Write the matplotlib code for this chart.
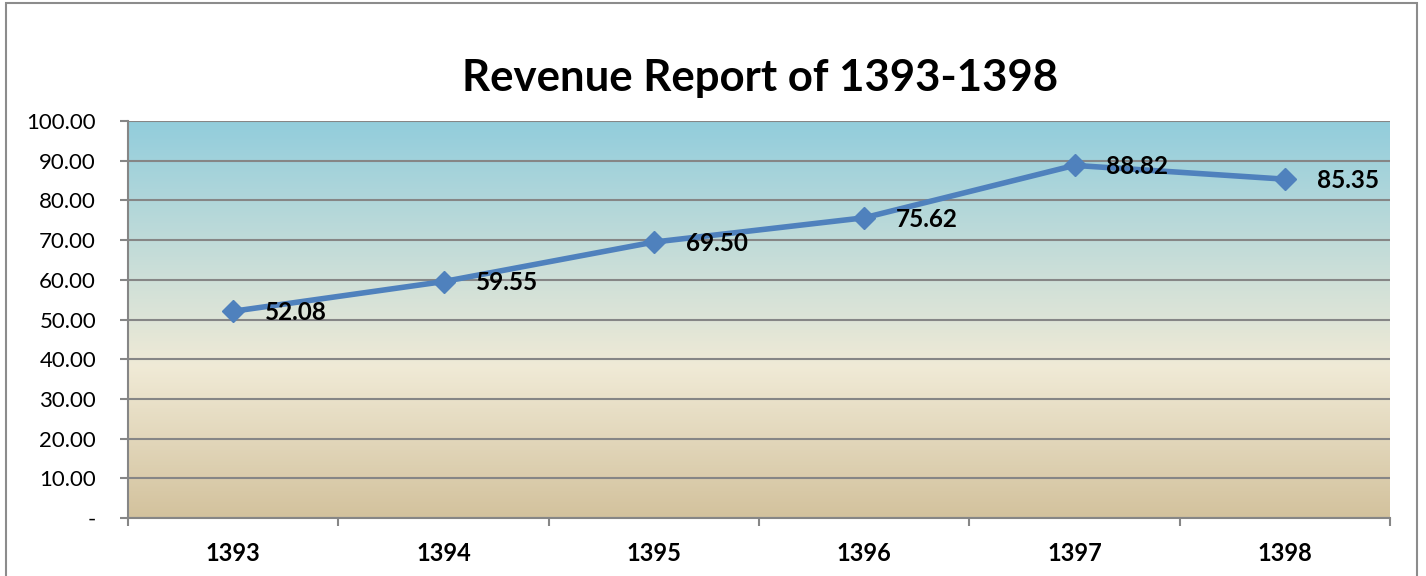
import numpy as np
import matplotlib.pyplot as plt
from matplotlib.colors import LinearSegmentedColormap
from matplotlib.patches import Rectangle

years = ['1393', '1394', '1395', '1396', '1397', '1398']
revenue = [52.08, 59.55, 69.50, 75.62, 88.82, 85.35]
y_ticks = [0, 10, 20, 30, 40, 50, 60, 70, 80, 90, 100]

plt.rcParams['font.family'] = ['Lato', 'DejaVu Sans']

fig = plt.figure(figsize=(14.26, 5.76), dpi=100)
ax = fig.add_axes([128 / 1426, 1 - 518 / 576, 1262 / 1426, 397 / 576])

# cadre autour de la figure
fig.patches.append(Rectangle((6 / 1426, -0.05), 1411 / 1426, 1.045,
                             transform=fig.transFigure, fill=False,
                             edgecolor='#8c8c8c', linewidth=1.5))

# fond dégradé (bleu en haut, beige en bas)
cmap = LinearSegmentedColormap.from_list(
    'fond', [(0, '#D3C29D'), (0.38, '#F0EAD6'), (1, '#92CDDC')])
grad = np.linspace(0, 1, 256).reshape(-1, 1)
ax.imshow(grad, cmap=cmap, aspect='auto', origin='lower',
          extent=(-0.5, 5.5, 0, 100), zorder=0)

x = np.arange(len(years))
ax.plot(x, revenue, color='#4F81BD', linewidth=4, marker='D', markersize=11,
        zorder=3)
for xi, v in zip(x, revenue):
    ax.annotate(f'{v:.2f}', (xi, v), xytext=(23, -1), textcoords='offset points',
                ha='left', va='center', fontsize=17.5, fontweight='bold',
                color='black', zorder=4)

ax.set_xlim(-0.5, 5.5)
ax.set_ylim(0, 100)
ax.set_yticks(y_ticks)
ax.set_yticklabels(['-'] + [f'{t:.2f}' for t in y_ticks[1:]], fontsize=16)
ax.yaxis.grid(True, color='#868686', linewidth=1.5, zorder=1)
ax.set_axisbelow(False)

ax.set_xticks(np.arange(-0.5, 6, 1))
ax.set_xticklabels([])
ax.set_xticks(x, minor=True)
ax.set_xticklabels(years, minor=True, fontsize=17, fontweight='bold')
ax.tick_params(axis='x', which='minor', length=0, pad=17)
ax.tick_params(axis='x', which='major', length=6, width=1.5, color='#868686')
ax.tick_params(axis='y', length=6, width=1.5, color='#868686', pad=17)

for side in ['top', 'right']:
    ax.spines[side].set_visible(False)
for side in ['left', 'bottom']:
    ax.spines[side].set_color('#868686')
    ax.spines[side].set_linewidth(1.5)

fig.text(760 / 1426, 1 - 78 / 576, 'Revenue Report of 1393-1398',
         ha='center', va='center', fontsize=31.5, fontweight='bold')

fig.savefig('out.png', dpi=100)
